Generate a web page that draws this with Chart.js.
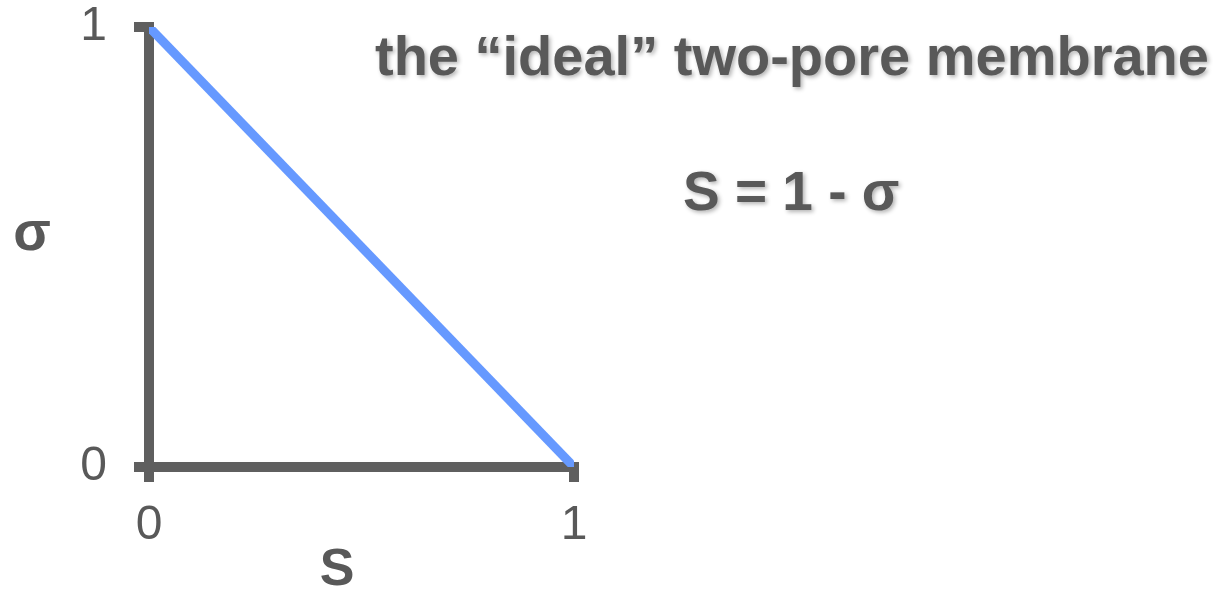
<!DOCTYPE html>
<html>
<head>
<meta charset="utf-8">
<title>ideal two-pore membrane</title>
<script src="https://cdn.jsdelivr.net/npm/chart.js@4"></script>
<style>
    html, body { margin: 0; padding: 0; background: #fff; }
    #wrap { width: 1225px; height: 597px; }
</style>
</head>
<body>
<div id="wrap"><canvas id="membraneChart" width="1225" height="597"></canvas></div>
<script>
// reflection coefficient line: S = 1 - sigma
const sValues = [0, 1];
const sigmaValues = [1, 0];
const titleText = 'the \u201cideal\u201d two-pore membrane';
const equationText = 'S = 1 - \u03c3';
const xAxisLabel = 'S';
const yAxisLabel = '\u03c3';

const GRAY = '#5f5f5f';
const TEXT_GRAY = '#595959';
const BLUE = '#6699ff';
const FONT = '"Liberation Sans", Arial, Helvetica, sans-serif';

// Headings and both axis letters are drawn by hand (sigma stays upright)
const textPlugin = {
    id: 'membraneText',
    afterDraw(chart) {
        const ctx = chart.ctx;
        const area = chart.chartArea;
        ctx.save();
        ctx.fillStyle = TEXT_GRAY;
        ctx.textBaseline = 'alphabetic';
        ctx.textAlign = 'center';

        ctx.font = 'bold 55px ' + FONT;
        ctx.fillText(yAxisLabel, 32, (area.top + area.bottom) / 2 + 3);

        ctx.font = 'bold 52px ' + FONT;
        ctx.fillText(xAxisLabel, 337, 585);

        // headings with a soft shadow
        ctx.font = 'bold 56px ' + FONT;
        ctx.shadowColor = 'rgba(0, 0, 0, 0.3)';
        ctx.shadowBlur = 4;
        ctx.shadowOffsetX = 2;
        ctx.shadowOffsetY = 2;
        ctx.textAlign = 'left';
        ctx.fillText(titleText, 375, 75);
        ctx.font = 'bold 55px ' + FONT;
        ctx.fillText(equationText, 683, 210);
        ctx.restore();
    }
};

const ctx = document.getElementById('membraneChart').getContext('2d');
new Chart(ctx, {
    type: 'line',
    data: {
        labels: sValues,
        datasets: [{
            data: sValues.map((s, i) => ({ x: s, y: sigmaValues[i] })),
            borderColor: BLUE,
            borderWidth: 9,
            borderCapStyle: 'butt',
            pointRadius: 0,
            fill: false,
            tension: 0
        }]
    },
    options: {
        responsive: false,
        animation: false,
        layout: {
            padding: { left: 0, right: 651, top: 27, bottom: 0 }
        },
        plugins: {
            legend: { display: false },
            tooltip: { enabled: false }
        },
        scales: {
            x: {
                type: 'linear',
                min: 0,
                max: 1,
                afterFit(scale) { scale.height = 130; },
                ticks: {
                    stepSize: 1,
                    color: TEXT_GRAY,
                    font: { family: FONT, size: 48 },
                    padding: 15
                },
                grid: {
                    drawOnChartArea: false,
                    drawTicks: true,
                    tickLength: 15,
                    lineWidth: 10,
                    color: GRAY
                },
                border: { width: 10, color: GRAY }
            },
            y: {
                type: 'linear',
                min: 0,
                max: 1,
                afterFit(scale) {
                    scale.width = 149;
                    // labels may hang past the ends of the axis
                    scale.paddingTop = 0;
                    scale.paddingBottom = 0;
                },
                ticks: {
                    stepSize: 1,
                    color: TEXT_GRAY,
                    font: { family: FONT, size: 48 },
                    padding: 27
                },
                grid: {
                    drawOnChartArea: false,
                    drawTicks: true,
                    tickLength: 15,
                    lineWidth: 10,
                    color: GRAY
                },
                border: { width: 10, color: GRAY }
            }
        }
    },
    plugins: [textPlugin]
});
</script>
</body>
</html>
